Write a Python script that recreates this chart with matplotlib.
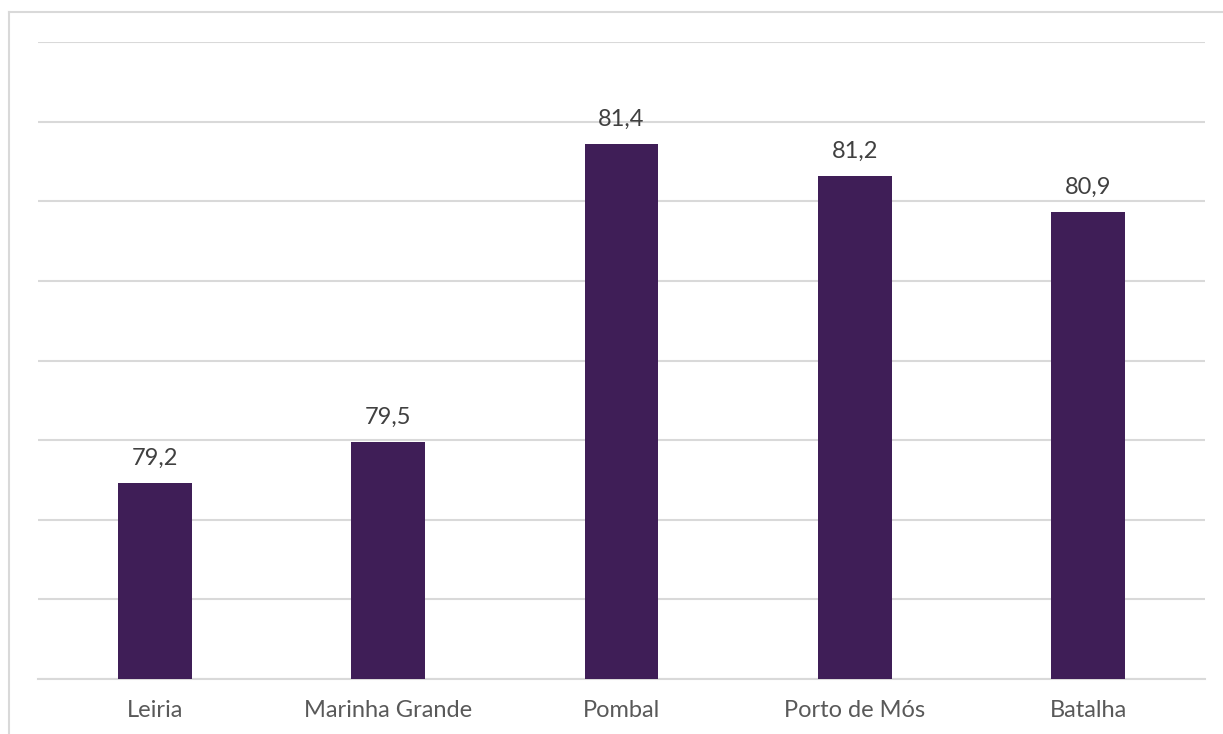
import numpy as np
import matplotlib
matplotlib.use("Agg")
import matplotlib.pyplot as plt

# values (labels show one decimal)
municipios = ["Leiria", "Marinha Grande", "Pombal", "Porto de Mós", "Batalha"]
esperanca_vida = [79.23, 79.49, 81.36, 81.16, 80.93]
y_min, y_max, y_step = 78.0, 82.0, 0.5

bar_color = "#3F1E57"
grid_color = "#D9D9D9"

plt.rcParams["font.family"] = ["Lato", "DejaVu Sans"]

fig = plt.figure(figsize=(12.23, 7.34), dpi=100)
ax = fig.add_axes([38 / 1223, 1 - 679 / 734, 1167 / 1223, 637 / 734])

x = np.arange(len(municipios))
bars = ax.bar(x, esperanca_vida, width=0.317, color=bar_color, zorder=3)

for b, v in zip(bars, esperanca_vida):
    ax.text(b.get_x() + b.get_width() / 2, v + 0.09,
            f"{v:.1f}".replace(".", ","), ha="center", va="bottom",
            fontsize=17, color="#404040", zorder=4)

ax.set_xlim(-0.5, len(municipios) - 0.5)
ax.set_ylim(y_min, y_max)
ax.set_yticks(np.arange(y_min, y_max + y_step / 2, y_step))
ax.yaxis.grid(True, color=grid_color, linewidth=1.5, zorder=0)
ax.tick_params(axis="y", left=False, labelleft=False)
ax.tick_params(axis="x", length=0, pad=15)
ax.set_xticks(x)
ax.set_xticklabels(municipios, fontsize=17, color="#595959")
for s in ["top", "right", "left"]:
    ax.spines[s].set_visible(False)
ax.spines["bottom"].set_color(grid_color)
ax.spines["bottom"].set_linewidth(1.5)

# chart-area border (only left and top edges visible in the crop)
fig.add_artist(plt.Line2D([9 / 1223, 9 / 1223], [0, 1 - 12 / 734],
                          color=grid_color, linewidth=1.5))
fig.add_artist(plt.Line2D([9 / 1223, 1], [1 - 12 / 734, 1 - 12 / 734],
                          color=grid_color, linewidth=1.5))

fig.savefig("out.png", dpi=100)
